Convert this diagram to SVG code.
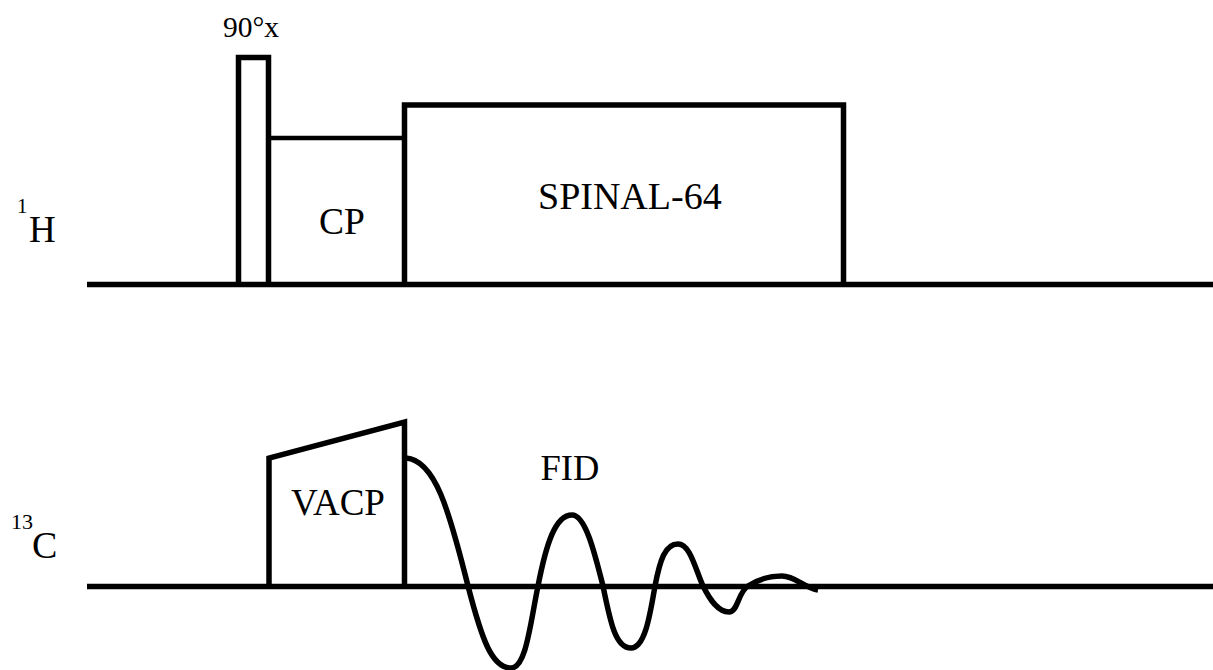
<svg xmlns="http://www.w3.org/2000/svg" width="1213" height="670" viewBox="0 0 1213 670">
<style>
.l{fill:none;stroke:#000;stroke-width:5.5}
.t{font-family:"Liberation Serif","Times New Roman",serif;fill:#000}
</style>
<rect width="1213" height="670" fill="#fff"/>
<g id="connectors">
<path class="l" d="M87 284.500H1213"/>
<path class="l" d="M87 586.500H1213"/>
</g>
<g id="pulse-90"><path class="l" d="M238.500 284V57.500H268.500V284"/><text class="t" x="223" y="37" font-size="29.5">90°x</text></g>
<g id="cp"><path class="l" d="M269 138H404" style="stroke-width:4.5"/><text class="t" x="319" y="234" font-size="37.5">CP</text></g>
<g id="spinal"><path class="l" d="M404.500 284V105H843.500V284"/><text class="t" x="538" y="209" font-size="38">SPINAL-64</text></g>
<g id="vacp"><path class="l" d="M269 586V458L404.500 422V586"/><text class="t" x="291" y="515" font-size="37">VACP</text></g>
<g id="fid"><path class="l" d="M406 458C435 460 449 510 468 586C482 640 492 668 511 668C526 668 530 625 538 586C546 545 555 515 572 515C585 515 594 550 603 586C610 620 615 648 631 648C645 648 650 615 655 586C660 560 665 544 678 544C690 544 695 568 703 586C710 600 718 612 729 612C738 612 738 592 748 586C757 580 770 576 782 576C795 576 805 588 818 590"/><text class="t" x="540.500" y="480" font-size="36.500">FID</text></g>
<g id="label-1h"><text class="t" x="17" y="213" font-size="21">1</text><text class="t" x="29" y="241.500" font-size="37">H</text></g>
<g id="label-13c"><text class="t" x="11" y="529" font-size="22">13</text><text class="t" x="32" y="558" font-size="38">C</text></g>
</svg>
